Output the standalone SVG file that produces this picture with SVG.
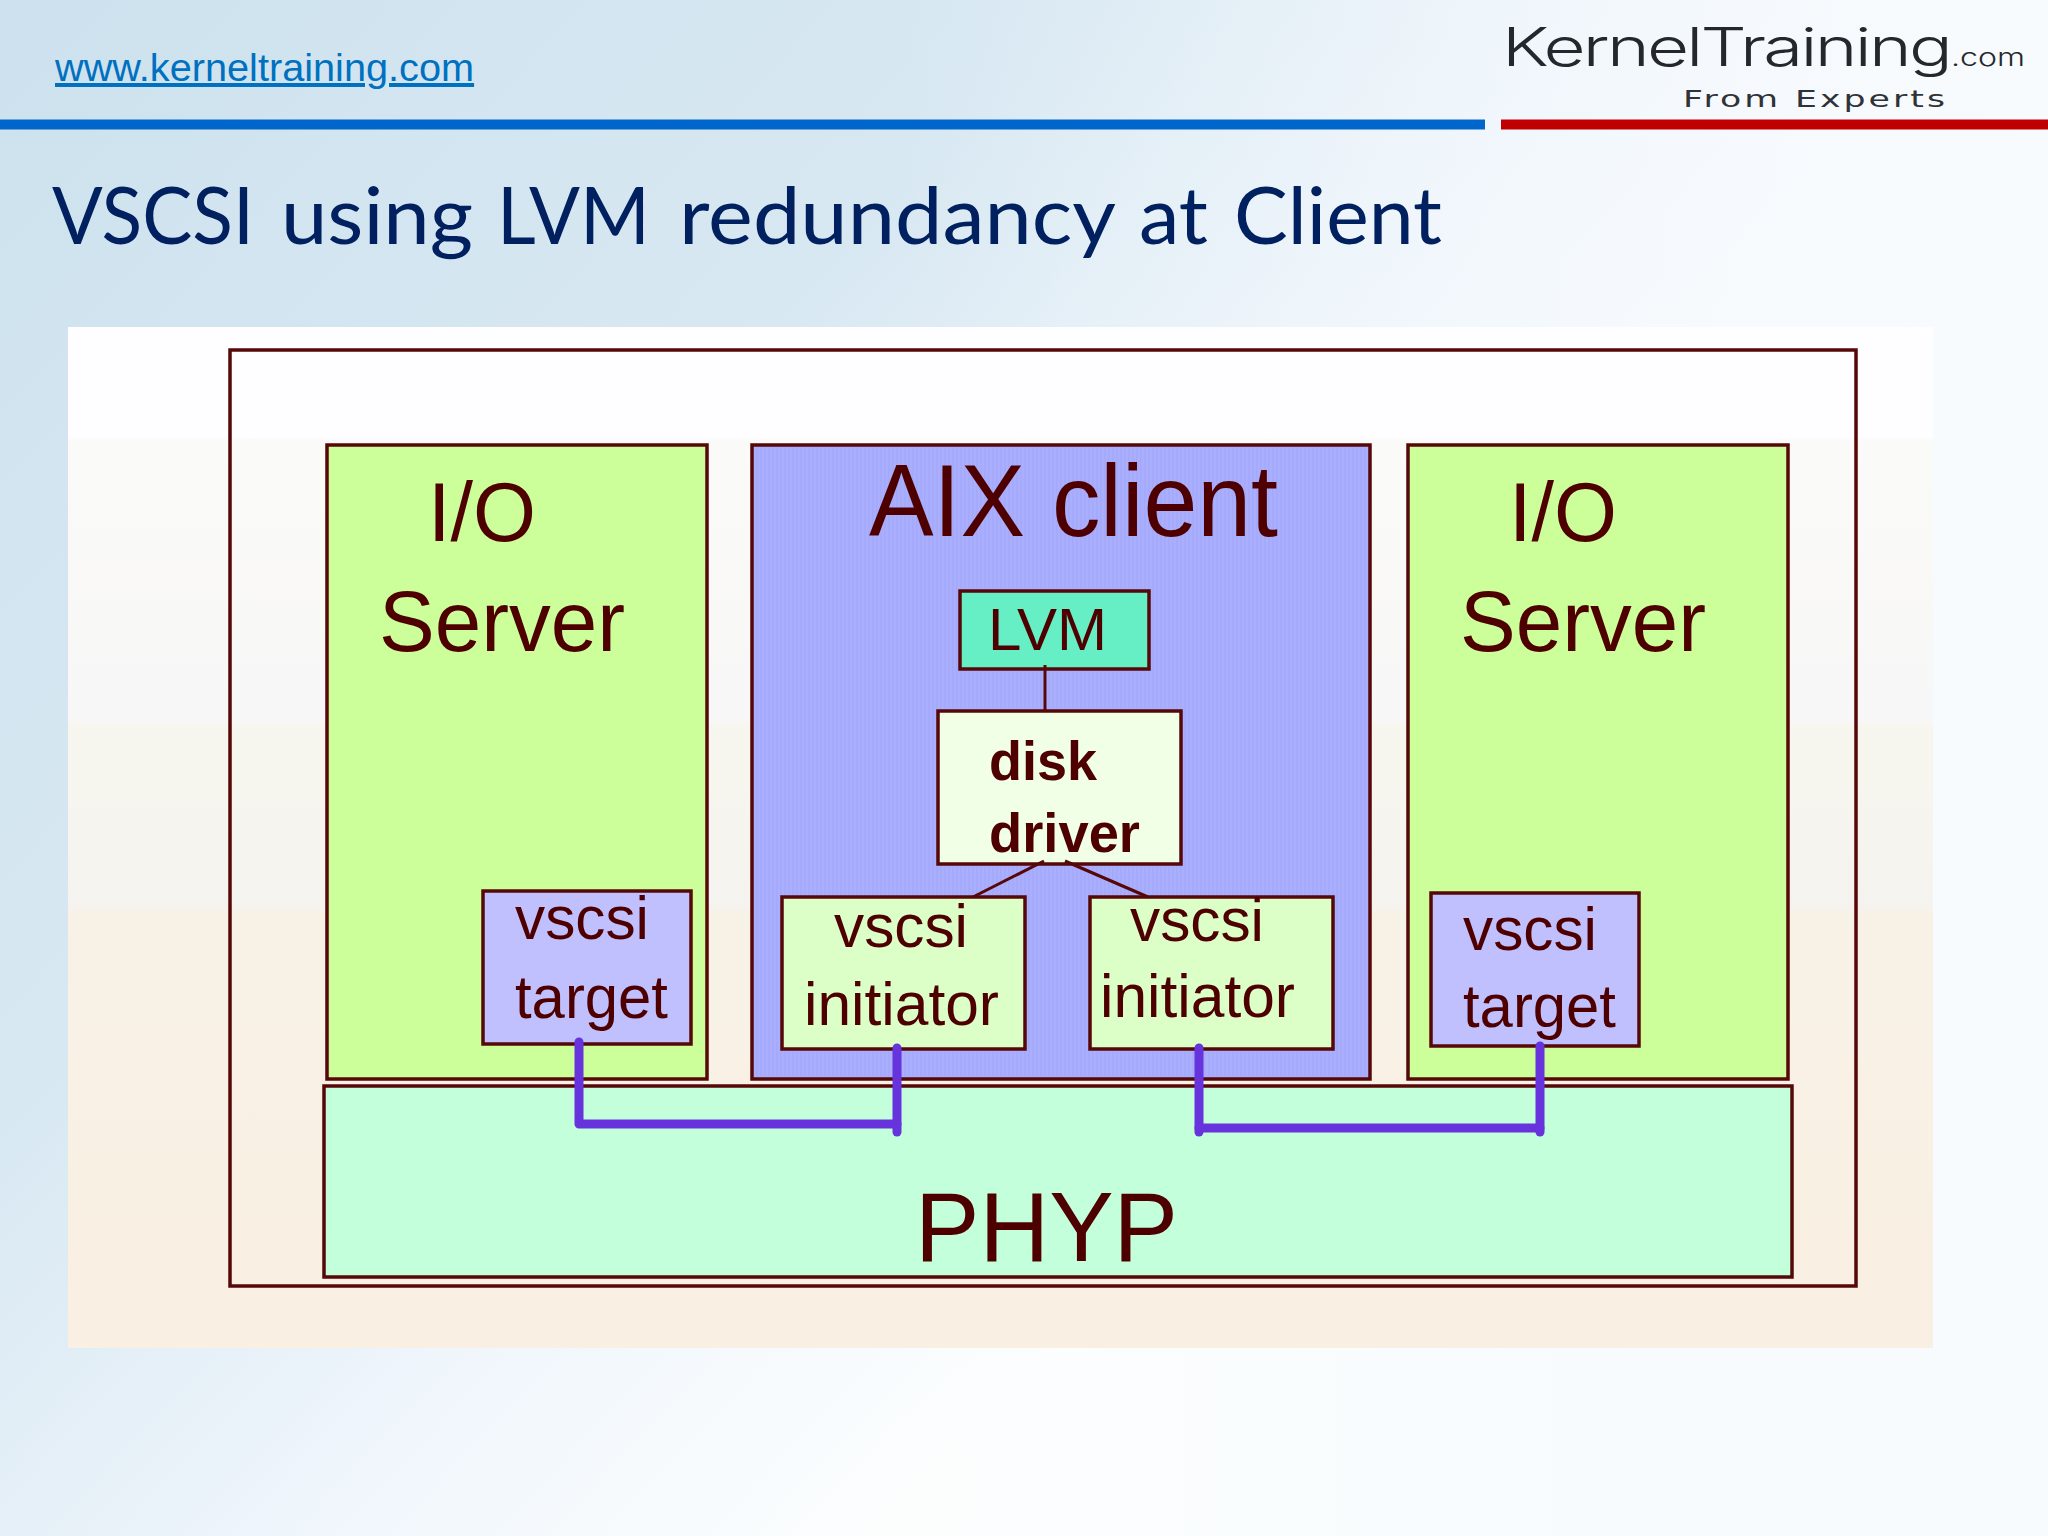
<svg xmlns="http://www.w3.org/2000/svg" width="2048" height="1536" viewBox="0 0 2048 1536">
<style>
.n{stroke:#560808;stroke-width:3.5}
.t{font-family:"Liberation Sans",Arial,sans-serif;fill:#4e0000}
.b{font-weight:bold}
.c1{fill:none;stroke:#560808;stroke-width:3}
.c2{fill:none;stroke:#6633dd;stroke-width:9;stroke-linecap:round;stroke-linejoin:round}
</style>
<defs>
<linearGradient id="bg" gradientUnits="userSpaceOnUse" x1="0" y1="60" x2="1200" y2="1200">
<stop offset="0" stop-color="#cde2ee"/><stop offset="0.45" stop-color="#d8e8f2"/><stop offset="0.75" stop-color="#f0f6fc"/><stop offset="1" stop-color="#fcfefe"/>
</linearGradient>
<linearGradient id="bg2" gradientUnits="userSpaceOnUse" x1="900" y1="0" x2="2048" y2="0">
<stop offset="0" stop-color="#f3f8fc" stop-opacity="0"/><stop offset="1" stop-color="#f8fbfe"/>
</linearGradient>
<linearGradient id="pic" gradientUnits="userSpaceOnUse" x1="0" y1="327" x2="0" y2="1348">
<stop offset="0" stop-color="#fefdff"/><stop offset="0.108" stop-color="#fefdff"/><stop offset="0.112" stop-color="#fafaf8"/><stop offset="0.385" stop-color="#f8f7f7"/><stop offset="0.392" stop-color="#f7f6ee"/><stop offset="0.566" stop-color="#f5f3ef"/><stop offset="0.576" stop-color="#f8f2e6"/><stop offset="1" stop-color="#f9efe2"/>
</linearGradient>
<pattern id="hatch" patternUnits="userSpaceOnUse" width="4" height="4">
<rect width="4" height="4" fill="#a9aeff"/><rect width="1.500" height="4" fill="#a4a9fa"/>
</pattern>
</defs>
<rect id="background" width="2048" height="1536" fill="url(#bg)"/>
<rect width="2048" height="1536" fill="url(#bg2)"/>
<rect id="bar-blue" x="0" y="119.500" width="1485" height="10" fill="#0066cc"/>
<rect id="bar-red" x="1501" y="119.500" width="547" height="10" fill="#c00000"/>
<g id="header">
<text x="55" y="81" font-family="Liberation Sans, Arial, sans-serif" font-size="39.700" fill="#0070c0" text-decoration="underline">www.kerneltraining.com</text>
<text y="244" font-family="Lato, sans-serif" font-size="80" fill="#002060"><tspan x="52" textLength="202" lengthAdjust="spacingAndGlyphs">VSCSI</tspan> <tspan x="281" textLength="192" lengthAdjust="spacingAndGlyphs">using</tspan> <tspan x="497" textLength="153" lengthAdjust="spacingAndGlyphs">LVM</tspan> <tspan x="679" textLength="435" lengthAdjust="spacingAndGlyphs">redundancy</tspan> <tspan x="1139" textLength="69" lengthAdjust="spacingAndGlyphs">at</tspan> <tspan x="1234" textLength="208" lengthAdjust="spacingAndGlyphs">Client</tspan></text>
<text x="1502" y="66" font-family="Inter, sans-serif" font-weight="300" font-size="53" letter-spacing="-2" fill="#24282d" textLength="448" lengthAdjust="spacingAndGlyphs">KernelTraining</text>
<text x="1951" y="66" font-family="Inter, sans-serif" font-weight="300" font-size="24" fill="#24282d" textLength="74" lengthAdjust="spacingAndGlyphs">.com</text>
<text x="1683" y="107" font-family="DejaVu Sans, sans-serif" font-size="23" letter-spacing="2" fill="#2f3236" textLength="265" lengthAdjust="spacingAndGlyphs">From Experts</text>
</g>
<rect id="picture" x="68" y="327" width="1865" height="1021" fill="url(#pic)"/>
<g id="frame"><rect class="n" x="230" y="350" width="1626" height="936" fill="none"/></g>
<g id="io-server-left">
<rect class="n" x="327" y="445" width="380" height="634" fill="#ccff99"/>
<text class="t" x="428" y="541" font-size="84" textLength="108" lengthAdjust="spacingAndGlyphs">I/O</text>
<text class="t" x="379" y="651" font-size="86" textLength="246" lengthAdjust="spacingAndGlyphs">Server</text>
</g>
<g id="aix-client">
<rect class="n" x="752" y="445" width="618" height="634" fill="url(#hatch)"/>
<text class="t" x="869" y="536" font-size="102" textLength="409" lengthAdjust="spacingAndGlyphs">AIX client</text>
</g>
<g id="io-server-right">
<rect class="n" x="1408" y="445" width="380" height="634" fill="#ccff99"/>
<text class="t" x="1509" y="541" font-size="84" textLength="108" lengthAdjust="spacingAndGlyphs">I/O</text>
<text class="t" x="1460" y="651" font-size="86" textLength="246" lengthAdjust="spacingAndGlyphs">Server</text>
</g>
<g id="phyp">
<rect class="n" x="324" y="1086" width="1468" height="191" fill="#c4ffdc"/>
<text class="t" x="915" y="1261" font-size="98" textLength="263" lengthAdjust="spacingAndGlyphs">PHYP</text>
</g>
<g id="lvm">
<rect class="n" x="960" y="591" width="189" height="78" fill="#66eec4"/>
<text class="t" x="988" y="650" font-size="60" textLength="119" lengthAdjust="spacingAndGlyphs">LVM</text>
</g>
<g id="disk-driver">
<rect class="n" x="938" y="711" width="243" height="153" fill="#f0ffe6"/>
<text class="t b" x="989" y="780" font-size="55" textLength="108" lengthAdjust="spacingAndGlyphs">disk</text>
<text class="t b" x="989" y="852" font-size="55" textLength="151" lengthAdjust="spacingAndGlyphs">driver</text>
</g>
<g id="vscsi-target-left">
<rect class="n" x="483" y="891" width="208" height="153" fill="#c0c0ff"/>
<text class="t" x="515" y="939" font-size="62" textLength="134" lengthAdjust="spacingAndGlyphs">vscsi</text>
<text class="t" x="515" y="1018" font-size="62" textLength="153" lengthAdjust="spacingAndGlyphs">target</text>
</g>
<g id="vscsi-initiator-left">
<rect class="n" x="782" y="897" width="243" height="152" fill="#dcffc8"/>
<text class="t" x="834" y="947" font-size="62" textLength="134" lengthAdjust="spacingAndGlyphs">vscsi</text>
<text class="t" x="804" y="1025" font-size="62" textLength="195" lengthAdjust="spacingAndGlyphs">initiator</text>
</g>
<g id="vscsi-initiator-right">
<rect class="n" x="1090" y="897" width="243" height="152" fill="#dcffc8"/>
<text class="t" x="1130" y="941" font-size="62" textLength="134" lengthAdjust="spacingAndGlyphs">vscsi</text>
<text class="t" x="1100" y="1017" font-size="62" textLength="195" lengthAdjust="spacingAndGlyphs">initiator</text>
</g>
<g id="vscsi-target-right">
<rect class="n" x="1431" y="893" width="208" height="153" fill="#c0c0ff"/>
<text class="t" x="1463" y="950" font-size="62" textLength="134" lengthAdjust="spacingAndGlyphs">vscsi</text>
<text class="t" x="1463" y="1027" font-size="62" textLength="153" lengthAdjust="spacingAndGlyphs">target</text>
</g>
<g id="connectors">
<path class="c1" d="M1045 665V711"/>
<path class="c1" d="M1044 861L973 897"/>
<path class="c1" d="M1065 861L1148 897"/>
<path class="c2" d="M579 1042V1124H897"/>
<path class="c2" d="M897 1048V1132"/>
<path class="c2" d="M1199 1048V1132"/>
<path class="c2" d="M1199 1128H1540"/>
<path class="c2" d="M1540 1046V1132"/>
</g>
</svg>
